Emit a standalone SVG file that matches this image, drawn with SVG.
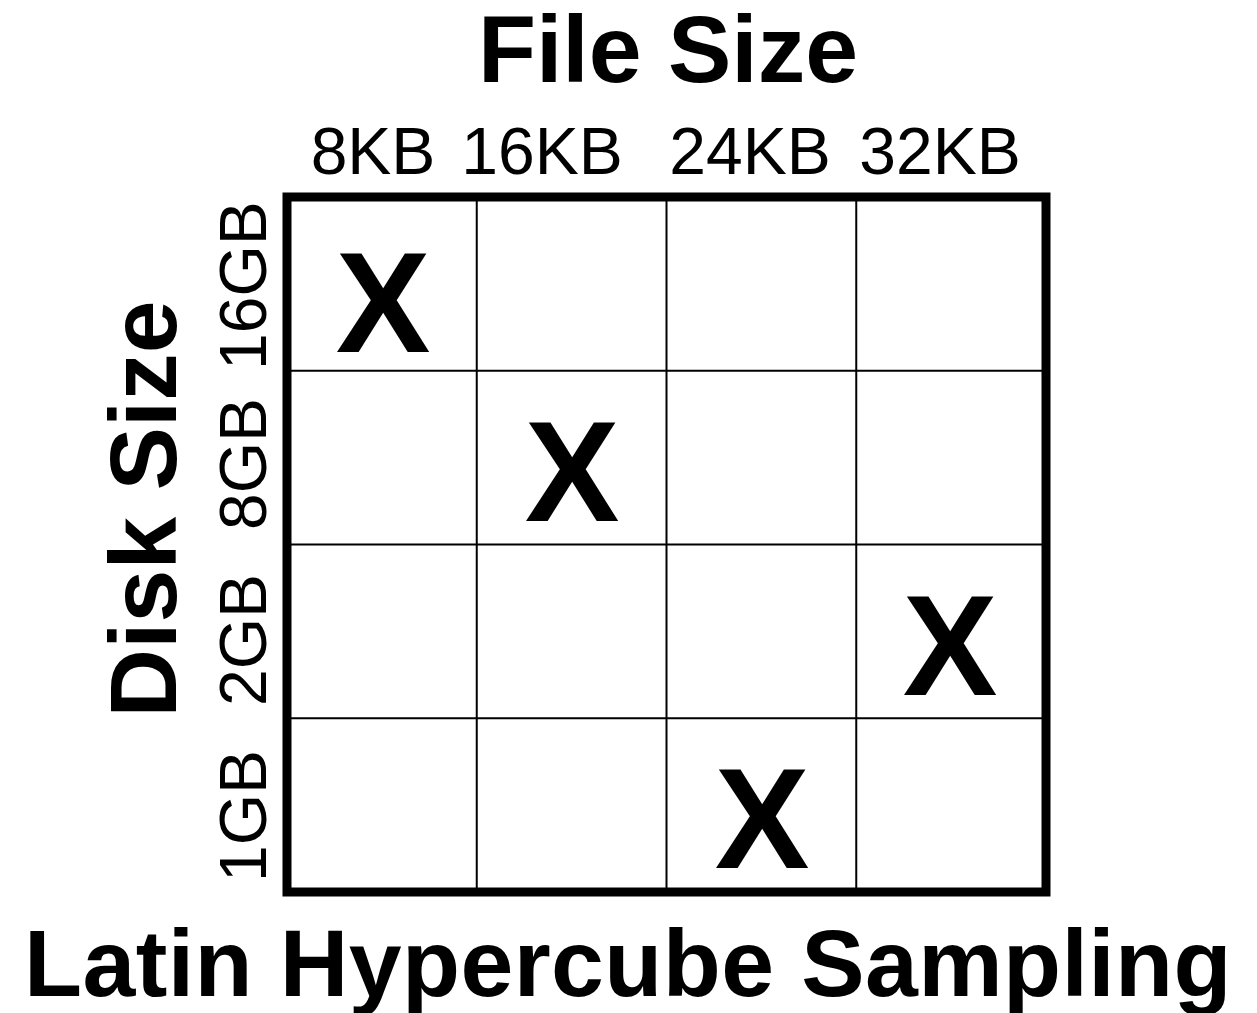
<svg xmlns="http://www.w3.org/2000/svg" width="1257" height="1013" viewBox="0 0 1257 1013">
<style>
.title{font-family:"Liberation Sans",Arial,sans-serif;font-weight:bold;font-size:95px;fill:#000}
.tick{font-family:"Liberation Sans",Arial,sans-serif;font-size:66px;fill:#000;text-anchor:middle}
.mark{font-family:"Liberation Sans",Arial,sans-serif;font-weight:bold;font-size:142px;fill:#000;text-anchor:middle}
.grid{stroke:#000;stroke-width:2;fill:none}
.frame{stroke:#000;stroke-width:9;fill:none}
</style>
<rect width="1257" height="1013" fill="#fff"/>
<g id="titles">
<text class="title" x="668" y="82" text-anchor="middle">File Size</text>
<text class="title" x="628" y="996" text-anchor="middle" letter-spacing="0.4">Latin Hypercube Sampling</text>
<text class="title" transform="translate(176,509) rotate(-90)" text-anchor="middle">Disk Size</text>
</g>
<g id="x-ticks">
<text class="tick" x="373" y="174">8KB</text>
<text class="tick" x="542" y="174">16KB</text>
<text class="tick" x="750" y="174">24KB</text>
<text class="tick" x="940" y="174">32KB</text>
</g>
<g id="y-ticks">
<text class="tick" transform="translate(266,285.5) rotate(-90)">16GB</text>
<text class="tick" transform="translate(266,464) rotate(-90)">8GB</text>
<text class="tick" transform="translate(266,640) rotate(-90)">2GB</text>
<text class="tick" transform="translate(266,816) rotate(-90)">1GB</text>
</g>
<g id="grid">
<line class="grid" x1="476.75" y1="197" x2="476.75" y2="892"/>
<line class="grid" x1="666.5" y1="197" x2="666.5" y2="892"/>
<line class="grid" x1="856.25" y1="197" x2="856.25" y2="892"/>
<line class="grid" x1="287" y1="370.75" x2="1046" y2="370.75"/>
<line class="grid" x1="287" y1="544.5" x2="1046" y2="544.5"/>
<line class="grid" x1="287" y1="718.25" x2="1046" y2="718.25"/>
<rect class="frame" x="287" y="197" width="759" height="695"/>
</g>
<g id="marks">
<text class="mark" x="383" y="352">X</text>
<text class="mark" x="572" y="521">X</text>
<text class="mark" x="950" y="695">X</text>
<text class="mark" x="762" y="868">X</text>
</g>
</svg>
